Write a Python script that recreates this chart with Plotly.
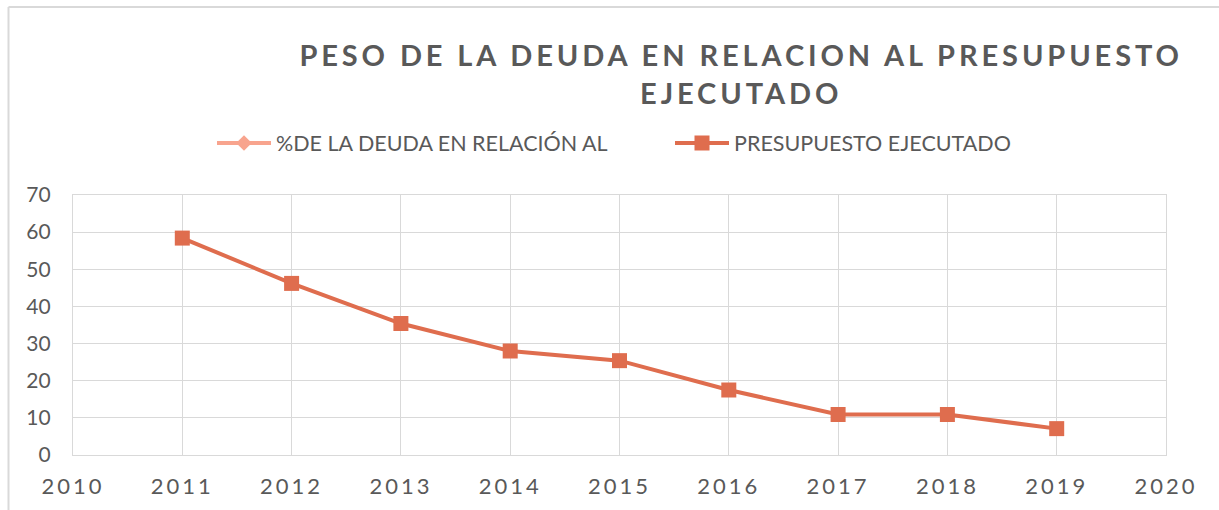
import plotly.graph_objects as go

years = [2011, 2012, 2013, 2014, 2015, 2016, 2017, 2018, 2019]
deuda_pct = [58.4, 46.2, 35.4, 28.0, 25.4, 17.5, 10.9, 10.9, 7.1]
series1_values = [None] * len(years)
series1_name = "%DE LA DEUDA EN RELACIÓN AL"
series2_name = "PRESUPUESTO EJECUTADO"
title_text = "PESO DE LA DEUDA EN RELACION AL PRESUPUESTO<br>EJECUTADO"
x_ticks = list(range(2010, 2021))
y_ticks = list(range(0, 71, 10))

TXT = "#595959"
GRID = "#d9d9d9"
FONT = "Lato"

fig = go.Figure()
fig.add_trace(go.Scatter(
    x=years, y=series1_values, name=series1_name, mode="lines+markers",
    line=dict(color="#F8A48E", width=4),
    marker=dict(symbol="diamond", size=12, color="#F8A48E"),
    showlegend=True,
))
fig.add_trace(go.Scatter(
    x=years, y=deuda_pct, name=series2_name, mode="lines+markers",
    line=dict(color="#DF6D4E", width=4),
    marker=dict(symbol="square", size=15, color="#DF6D4E"),
))

fig.update_layout(
    width=1219, height=510,
    paper_bgcolor="white", plot_bgcolor="white",
    margin=dict(l=73, r=53, t=195, b=55),
    font=dict(family=FONT, color=TXT, size=21),
    title=dict(
        text=title_text, x=0.608, xanchor="center", xref="container",
        y=1 - 66 / 510, yanchor="middle", yref="container",
        font=dict(family=FONT, size=29, color=TXT, weight="bold"),
    ),
    legend=dict(
        orientation="h", xref="container", yref="container",
        x=212 / 1219, xanchor="left", y=1 - 143 / 510, yanchor="middle",
        font=dict(family=FONT, size=21.5, color=TXT),
        itemwidth=54, entrywidth=389, bgcolor="rgba(0,0,0,0)",
    ),
    showlegend=True,
    shapes=[
        dict(type="line", xref="paper", yref="paper", x0=-0.059, x1=1.1,
             y0=1.723, y1=1.723, line=dict(color="#d9d9d9", width=2)),
        dict(type="line", xref="paper", yref="paper", x0=-0.059, x1=-0.059,
             y0=1.723, y1=-0.3, line=dict(color="#d9d9d9", width=2)),
    ],
)

fig.update_xaxes(
    range=[2010, 2020], tickvals=x_ticks, ticktext=[str(v) for v in x_ticks],
    showgrid=True, gridcolor=GRID, gridwidth=1.3,
    showline=True, linecolor=GRID, linewidth=1.3, mirror=True,
    zeroline=False, ticks="", ticklabelstandoff=11,
    tickfont=dict(family=FONT, size=22, color=TXT),
)
fig.update_yaxes(
    range=[0, 70], tickvals=y_ticks,
    showgrid=True, gridcolor=GRID, gridwidth=1.3,
    showline=True, linecolor=GRID, linewidth=1.3, mirror=True,
    zeroline=False, ticks="", ticklabelstandoff=17,
    tickfont=dict(family=FONT, size=21, color=TXT),
)

js = ("var s=document.createElement('style');"
      "s.innerHTML='body{margin:0} text.gtitle{letter-spacing:3.9px} g.xtick text{letter-spacing:3px}';"
      "document.head.appendChild(s);")
fig.write_html("out.html", post_script=js, config={"displayModeBar": False})
